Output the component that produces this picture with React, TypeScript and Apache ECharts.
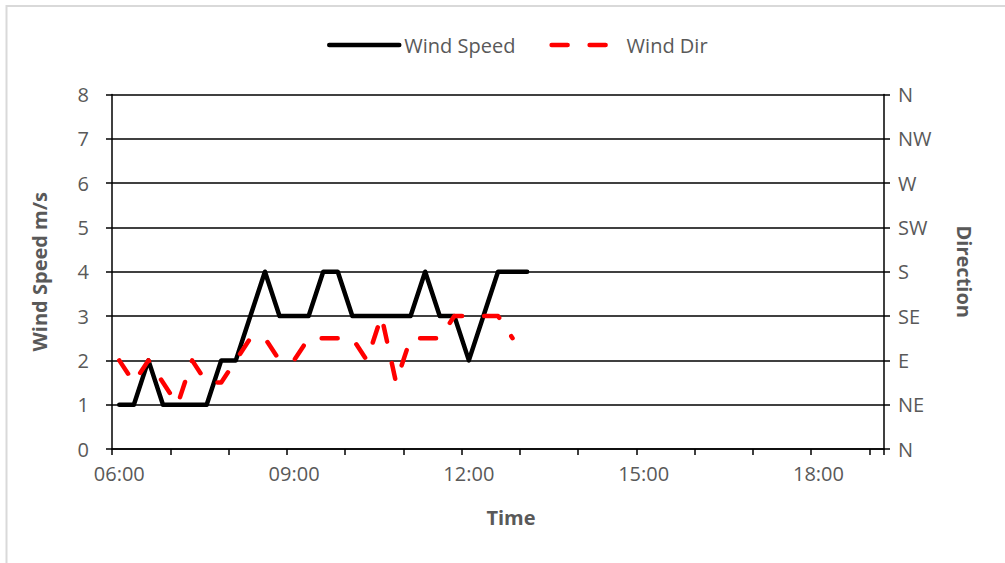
import React, { useEffect, useRef } from 'react';
import * as echarts from 'echarts';

const categories = [
  '06:00', '06:15', '06:30', '06:45', '07:00', '07:15', '07:30', '07:45',
  '08:00', '08:15', '08:30', '08:45', '09:00', '09:15', '09:30', '09:45',
  '10:00', '10:15', '10:30', '10:45', '11:00', '11:15', '11:30', '11:45',
  '12:00', '12:15', '12:30', '12:45', '13:00', '13:15', '13:30', '13:45',
  '14:00', '14:15', '14:30', '14:45', '15:00', '15:15', '15:30', '15:45',
  '16:00', '16:15', '16:30', '16:45', '17:00', '17:15', '17:30', '17:45',
  '18:00', '18:15', '18:30', '18:45', '19:00',
];

const windSpeed = [1, 1, 2, 1, 1, 1, 1, 2, 2, 3, 4, 3, 3, 3, 4, 4, 3, 3, 3, 3, 3, 4, 3, 3, 2, 3, 4, 4, 4];

const windDir = [2, 1.5, 2, 1.5, 1, 2, 1.5, 1.5, 2, 2.5, 2.5, 2, 2, 2.5, 2.5, 2.5, 2.5, 2, 3, 1.5, 2.5, 2.5, 2.5, 3, 3, 3, 3, 2.5];

const dirLabels = ['N', 'NE', 'E', 'SE', 'S', 'SW', 'W', 'NW', 'N'];

const FONT = "'Open Sans', 'Noto Sans', sans-serif";
const GRAY = '#595959';

export default function App() {
  const ref = useRef<HTMLDivElement>(null);
  useEffect(() => {
    const chart = echarts.init(ref.current!, null, { renderer: 'svg' });
    chart.setOption({
      animation: false,
      backgroundColor: '#ffffff',
      textStyle: { fontFamily: FONT },
      graphic: [
        {
          type: 'polyline',
          shape: { points: [[6.5, 563], [6.5, 6], [1005, 6]] },
          style: { stroke: '#d9d9d9', lineWidth: 2, fill: 'none' },
          silent: true,
        },
      ],
      legend: {
        data: ['Wind Speed', 'Wind Dir'],
        left: 322,
        top: 30,
        itemWidth: 70,
        itemHeight: 14,
        itemGap: 34,
        itemStyle: { opacity: 0 },
        lineStyle: { width: 4.5, cap: 'round' },
        textStyle: { fontSize: 20, color: GRAY, fontFamily: FONT },
      },
      grid: { left: 112, right: 121, top: 94.5, bottom: 114 },
      xAxis: {
        type: 'category',
        data: categories,
        boundaryGap: true,
        axisLine: { show: true, lineStyle: { color: '#000', width: 1.5 } },
        axisTick: { show: true, interval: 3, length: 6, lineStyle: { color: '#000', width: 1.5 } },
        axisLabel: { interval: 11, color: GRAY, fontSize: 20, margin: 14, fontFamily: FONT },
        splitLine: { show: false },
        name: 'Time',
        nameLocation: 'middle',
        nameGap: 58,
        nameTextStyle: { fontWeight: 'bold', fontSize: 20, color: GRAY, fontFamily: FONT, padding: [0, 0, 0, 26] },
      },
      yAxis: [
        {
          type: 'value',
          min: 0,
          max: 8,
          interval: 1,
          position: 'left',
          axisLine: { show: true, lineStyle: { color: '#000', width: 1.5 } },
          axisTick: { show: true, length: 6, lineStyle: { color: '#000', width: 1.5 } },
          axisLabel: { color: GRAY, fontSize: 20, margin: 23, fontFamily: FONT },
          splitLine: { show: true, lineStyle: { color: '#000', width: 1.5 } },
          name: 'Wind Speed m/s',
          nameLocation: 'middle',
          nameGap: 63,
          nameRotate: 90,
          nameTextStyle: { fontWeight: 'bold', fontSize: 20, color: GRAY, fontFamily: FONT },
        },
        {
          type: 'value',
          min: 0,
          max: 8,
          interval: 1,
          position: 'right',
          axisLine: { show: true, lineStyle: { color: '#000', width: 1.5 } },
          axisTick: { show: true, length: 6, lineStyle: { color: '#000', width: 1.5 } },
          axisLabel: {
            color: GRAY,
            fontSize: 20,
            margin: 14,
            fontFamily: FONT,
            formatter: (v: number) => dirLabels[Math.round(v)] ?? '',
          },
          splitLine: { show: false },
          name: 'Direction',
          nameLocation: 'middle',
          nameGap: 70,
          nameRotate: -90,
          nameTextStyle: { fontWeight: 'bold', fontSize: 20, color: GRAY, fontFamily: FONT },
        },
      ],
      series: [
        {
          name: 'Wind Speed',
          type: 'line',
          yAxisIndex: 0,
          data: windSpeed,
          symbol: 'none',
          showSymbol: false,
          itemStyle: { color: '#000' },
          lineStyle: { color: '#000', width: 4.5, cap: 'round', join: 'round' },
          z: 3,
        },
        {
          name: 'Wind Dir',
          type: 'line',
          yAxisIndex: 1,
          data: windDir,
          symbol: 'none',
          showSymbol: false,
          itemStyle: { color: '#ff0000' },
          lineStyle: { color: '#ff0000', width: 4.5, type: [16, 22], cap: 'round', join: 'round' },
          z: 4,
        },
      ],
    });
    return () => chart.dispose();
  }, []);
  return (
    <div
      ref={ref}
      style={{ position: 'fixed', left: 0, top: 0, width: 1005, height: 563, background: '#fff' }}
    />
  );
}
